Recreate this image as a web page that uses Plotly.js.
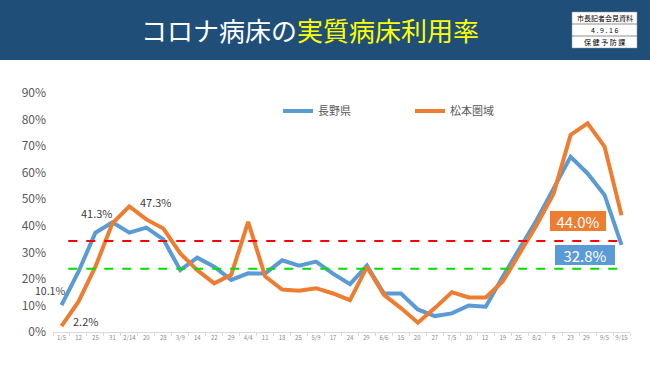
<!DOCTYPE html>
<html><head><meta charset="utf-8">
<script src="https://cdn.plot.ly/plotly-3.0.1.min.js"></script>
<style>html,body{margin:0;padding:0;background:#fff;}#chart{width:650px;height:390px;}</style>
</head><body><div id="chart"></div>
<script>
const dates = ['1/5','12','25','31','2/14','20','28','3/9','14','22','29','4/4','11','18','25 ','5/9','17','24','29 ','6/6','15','20 ','27','7/5','10','12 ','19','25  ','8/2','9','23','29  ','9/5','9/15'];
const nagano = [10.1,22.7,37.4,41.3,37.4,39.3,34.9,23.3,28.0,24.6,19.6,22.1,22.0,27.0,25.0,26.5,22.0,18.0,25.0,14.5,14.5,8.5,6.0,7.0,10.0,9.5,20.8,31.5,42.2,54.1,66.0,59.7,51.6,32.8];
const matsumoto = [2.2,11.4,24.6,40.9,47.3,42.4,39.0,29.6,23.3,18.3,21.5,41.5,21.0,16.0,15.5,16.5,14.5,12.0,24.5,14.0,9.0,3.5,9.0,15.0,13.0,13.0,19.0,29.7,40.3,52.2,74.2,78.6,69.8,44.0];
const seriesNames = ['長野県','松本圏域'];
const thresholdRed = 34.3;
const thresholdGreen = 23.8;
const titleWhite = 'コロナ病床の';
const titleYellow = '実質病床利用率';
const stampRows = ['市長記者会見資料','4 . 9 . 1 6','保 健 予 防 課'];

const BLUE = '#5B9BD5', ORANGE = '#ED7D31';
const T = 93, B = 58, L = 53, R = 20;
const H = 390 - T - B, W = 650 - L - R;
const py = Y => (390 - B - Y) / H;   // pixel -> paper y
const px = X => (X - L) / W;         // pixel -> paper x
const n = dates.length;

const traces = [
  {x: dates, y: nagano, name: seriesNames[0], type: 'scatter', mode: 'lines', line: {color: BLUE, width: 4}},
  {x: dates, y: matsumoto, name: seriesNames[1], type: 'scatter', mode: 'lines', line: {color: ORANGE, width: 4}}
];

const shapes = [
  {type: 'rect', xref: 'paper', yref: 'paper', x0: px(0), x1: px(650), y0: py(60), y1: py(0), fillcolor: '#1F4E79', line: {width: 0}, layer: 'below'},
  {type: 'rect', xref: 'paper', yref: 'paper', x0: px(572), x1: px(637), y0: py(48), y1: py(12), fillcolor: '#ffffff', line: {color: '#999', width: 0.5}},
  {type: 'line', xref: 'paper', yref: 'paper', x0: px(572), x1: px(637), y0: py(24), y1: py(24), line: {color: '#444', width: 0.6}},
  {type: 'line', xref: 'paper', yref: 'paper', x0: px(572), x1: px(637), y0: py(36), y1: py(36), line: {color: '#444', width: 0.6}},
  {type: 'line', xref: 'x', yref: 'y', x0: 0.4, x1: n - 1.2, y0: thresholdRed, y1: thresholdRed, line: {color: '#FF0000', width: 2, dash: 'dash'}},
  {type: 'line', xref: 'x', yref: 'y', x0: 0.4, x1: n - 1.2, y0: thresholdGreen, y1: thresholdGreen, line: {color: '#00E000', width: 2, dash: 'dash'}}
];

const fnt = '"Noto Sans CJK JP", "Noto Sans", sans-serif';
const lbl = (i, arr, xs, ys, sz) => ({x: i, y: arr[i], xref: 'x', yref: 'y', showarrow: false, text: arr[i].toFixed(1) + '%',
  xshift: xs, yshift: ys, font: {family: fnt, size: sz || 11, color: '#404040'}});
const annotations = [
  {xref: 'paper', yref: 'paper', x: px(310), y: py(30), showarrow: false, xanchor: 'center', yanchor: 'middle',
   text: titleWhite + '<span style="color:#FFFF00">' + titleYellow + '</span>', font: {family: fnt, size: 26, color: '#ffffff'}},
  ...stampRows.map((t, i) => ({xref: 'paper', yref: 'paper', x: px(604.5), y: py(18 + 12 * i), showarrow: false, xanchor: 'center', yanchor: 'middle',
   text: t, font: {family: fnt, size: 7, color: '#000'}})),
  lbl(0, nagano, -11, 15, 10.5),
  lbl(0, matsumoto, 24, 5),
  lbl(3, nagano, -15, 9),
  lbl(4, matsumoto, 27, 4),
  {x: n - 1, y: matsumoto[n - 1], xref: 'x', yref: 'y', showarrow: false, text: matsumoto[n - 1].toFixed(1) + '%', xshift: -44, yshift: -6,
   bgcolor: ORANGE, bordercolor: '#ffffff', borderwidth: 1, borderpad: 1, width: 54, height: 18, font: {family: fnt, size: 15, color: '#ffffff'}},
  {x: n - 1, y: nagano[n - 1], xref: 'x', yref: 'y', showarrow: false, text: nagano[n - 1].toFixed(1) + '%', xshift: -37, yshift: -10,
   bgcolor: BLUE, bordercolor: '#ffffff', borderwidth: 1, borderpad: 1, width: 58, height: 18, font: {family: fnt, size: 15, color: '#ffffff'}}
];

const layout = {
  width: 650, height: 390,
  margin: {t: T, b: B, l: L, r: R},
  paper_bgcolor: '#ffffff', plot_bgcolor: '#ffffff',
  font: {family: fnt},
  showlegend: true,
  legend: {orientation: 'h', x: px(278), y: py(111), xanchor: 'left', yanchor: 'middle', entrywidth: 87, entrywidthmode: 'pixels',
           font: {family: fnt, size: 11, color: '#595959'}, bgcolor: 'rgba(0,0,0,0)'},
  xaxis: {type: 'category', range: [-0.5, n - 0.5], showgrid: false, zeroline: false, showline: true, linecolor: '#d9d9d9', linewidth: 1,
          ticks: 'outside', tickson: 'boundaries', ticklen: 3, tickcolor: '#d9d9d9', tickangle: 0,
          tickfont: {family: fnt, size: 6, color: '#8c8c8c'}, fixedrange: true},
  yaxis: {range: [0, 90], dtick: 10, ticksuffix: '%', showgrid: false, zeroline: false, showline: false, ticklabelstandoff: 6,
          tickfont: {family: fnt, size: 12, color: '#595959'}, fixedrange: true},
  shapes: shapes,
  annotations: annotations
};

Plotly.newPlot('chart', traces, layout, {displayModeBar: false, staticPlot: true});
</script>
</body></html>
